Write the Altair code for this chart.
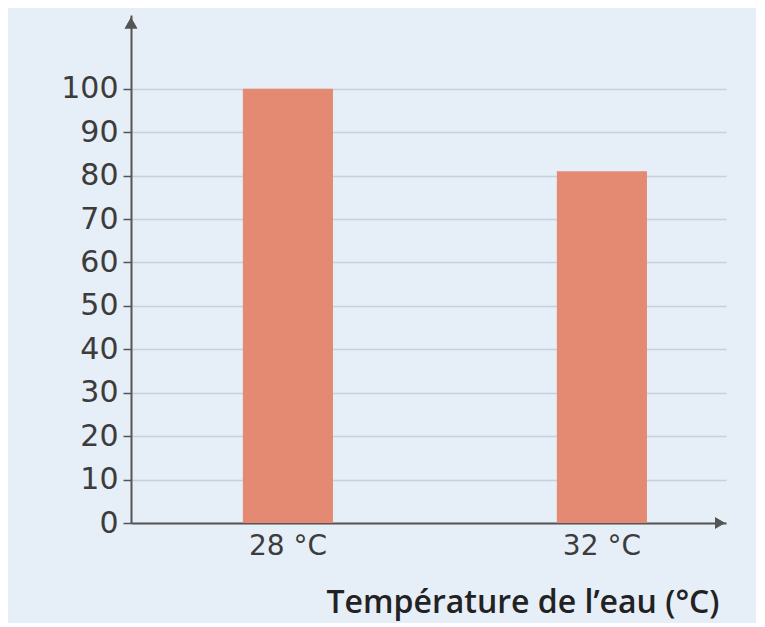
import altair as alt
import pandas as pd

categories = ["28 °C", "32 °C"]
values = [100, 81]
y_ticks = [0, 10, 20, 30, 40, 50, 60, 70, 80, 90, 100]
y_top = 117
x_title = "Température de l\u2019eau (°C)"

W, H = 595, 508

df = pd.DataFrame({"temp": categories, "value": values})
base = alt.Chart(df)

bars = base.mark_bar(color="#e58a72").encode(
    x=alt.X(
        "temp:N",
        sort=categories,
        scale=alt.Scale(paddingInner=0.713, paddingOuter=0.304, align=0.586),
        axis=alt.Axis(
            title=x_title,
            labelAngle=0,
            labelFont="DejaVu Sans",
            labelFontSize=28,
            labelColor="#3c3c3c",
            labelPadding=9,
            ticks=False,
            domainColor="#555555",
            domainWidth=2,
            titleFont="Open Sans",
            titleFontSize=32,
            titleFontWeight=600,
            titleColor="#222222",
            titleAlign="right",
            titleAnchor="end",
            titleX=588,
            titleY=64,
        ),
    ),
    y=alt.Y(
        "value:Q",
        scale=alt.Scale(domain=[0, y_top], nice=False, zero=True),
        axis=alt.Axis(
            title=None,
            values=y_ticks,
            grid=True,
            gridColor="#c8d0dc",
            gridWidth=1.5,
            labelFont="DejaVu Sans",
            labelFontSize=30,
            labelColor="#3c3c3c",
            labelPadding=5,
            tickSize=8,
            tickColor="#555555",
            tickWidth=1.5,
            domainColor="#555555",
            domainWidth=2,
        ),
    ),
)

up_arrow = base.mark_point(shape="triangle-up", filled=True, color="#555555", size=160, opacity=1).encode(
    x=alt.value(0), y=alt.value(8)
)
right_arrow = base.mark_point(shape="triangle-right", filled=True, color="#555555", size=130, opacity=1).encode(
    x=alt.value(W - 6), y=alt.value(H)
)

chart = (
    alt.layer(bars, up_arrow, right_arrow)
    .properties(
        width=W,
        height=H,
        autosize=alt.AutoSizeParams(type="none"),
        padding={"left": 123, "top": 7, "right": 30, "bottom": 100},
        background="#e6eef7",
    )
    .configure_view(stroke=None)
)

chart.save("out.html", embed_options={"renderer": "svg", "actions": False})
